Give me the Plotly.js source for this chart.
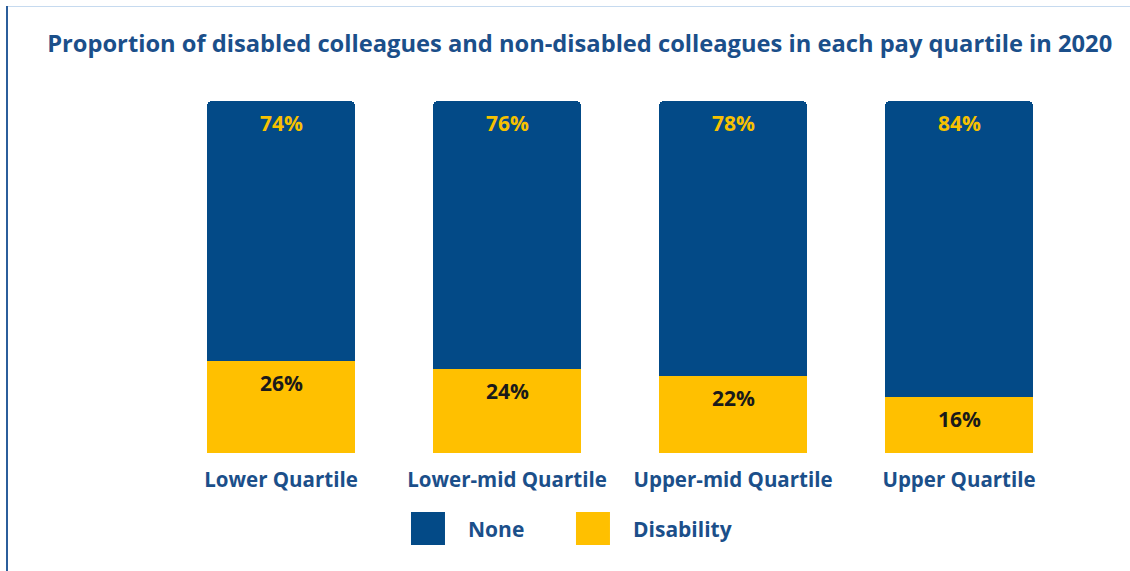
<!DOCTYPE html>
<html>
<head>
<meta charset="utf-8">
<script src="https://cdn.plot.ly/plotly-3.0.1.min.js"></script>
<style>
  html, body { margin: 0; padding: 0; background: #fff; }
  #wrap { position: relative; width: 1130px; height: 571px; overflow: hidden; }
  #chart { position: absolute; left: 0; top: 0; width: 1130px; height: 571px; }
  #bl { position: absolute; left: 6px; top: 6px; width: 2px; height: 565px; background: #2B5E9B; }
  #bt { position: absolute; left: 6px; top: 6px; width: 1124px; height: 1px; background: #C6DAEF; }
</style>
</head>
<body>
<div id="wrap">
  <div id="chart"></div>
  <div id="bt"></div>
  <div id="bl"></div>
</div>
<script>
const titleText = 'Proportion of disabled colleagues and non-disabled colleagues in each pay quartile in 2020';
const categories = ['Lower Quartile', 'Lower-mid Quartile', 'Upper-mid Quartile', 'Upper Quartile'];
const seriesNames = ['None', 'Disability'];
const noneValues = [74, 76, 78, 84];
const disabilityValues = [26, 24, 22, 16];

const BLUE = '#034A87';
const YELLOW = '#FFC000';
const TEXT_BLUE = '#1B4F8A';
const FONT = '"Open Sans", "Noto Sans", sans-serif';

const traces = [
  {
    type: 'bar', name: seriesNames[1], x: categories, y: disabilityValues,
    marker: { color: YELLOW }, hoverinfo: 'none', showlegend: false
  },
  {
    type: 'bar', name: seriesNames[0], x: categories, y: noneValues,
    marker: { color: BLUE }, hoverinfo: 'none', showlegend: false
  }
];

const annotations = [];
categories.forEach((c, i) => {
  annotations.push({
    x: c, y: disabilityValues[i] + noneValues[i], xref: 'x', yref: 'y',
    text: '<b>' + noneValues[i] + '%</b>', showarrow: false,
    yanchor: 'middle', yshift: -22,
    font: { family: FONT, size: 21, color: '#F7C100' }
  });
  annotations.push({
    x: c, y: disabilityValues[i], xref: 'x', yref: 'y',
    text: '<b>' + disabilityValues[i] + '%</b>', showarrow: false,
    yanchor: 'middle', yshift: -22,
    font: { family: FONT, size: 21, color: '#1A1A1A' }
  });
});

// manual legend (paper coordinates)
const legendColors = [BLUE, YELLOW];
const legendKeyX = [0.2688, 0.4513];
const legendTextX = [0.3297, 0.5122];
const shapes = [];
seriesNames.forEach((n, i) => {
  shapes.push({
    type: 'rect', xref: 'paper', yref: 'paper',
    x0: legendKeyX[i], x1: legendKeyX[i] + 0.0376, y0: -0.2614, y1: -0.1676,
    fillcolor: legendColors[i], line: { width: 0 }
  });
  annotations.push({
    x: legendTextX[i], y: -0.2145, xref: 'paper', yref: 'paper',
    xanchor: 'left', yanchor: 'middle', showarrow: false,
    text: '<b>' + n + '</b>',
    font: { family: FONT, size: 21, color: TEXT_BLUE }
  });
});

const layout = {
  width: 1130, height: 571,
  margin: { l: 168, r: 58, t: 101, b: 118, pad: 0 },
  paper_bgcolor: '#ffffff', plot_bgcolor: '#ffffff',
  barmode: 'stack', bargap: 0.345, barcornerradius: 5,
  title: {
    text: '<b>' + titleText + '</b>',
    x: 0.513, xref: 'container', xanchor: 'center',
    y: 1 - 44 / 571, yref: 'container', yanchor: 'middle',
    font: { family: FONT, size: 23.7, color: TEXT_BLUE }
  },
  xaxis: {
    type: 'category', showgrid: false, zeroline: false, showline: false,
    ticks: 'outside', ticklen: 8, tickcolor: 'rgba(0,0,0,0)',
    tickfont: { family: FONT, size: 20.5, color: TEXT_BLUE },
    tickprefix: '<b>', ticksuffix: '</b>', fixedrange: true
  },
  yaxis: {
    range: [0, 100], visible: false, showgrid: false, zeroline: false, fixedrange: true
  },
  showlegend: false,
  annotations: annotations,
  shapes: shapes,
  font: { family: FONT }
};

Plotly.newPlot('chart', traces, layout, { staticPlot: true, displayModeBar: false });
</script>
</body>
</html>
